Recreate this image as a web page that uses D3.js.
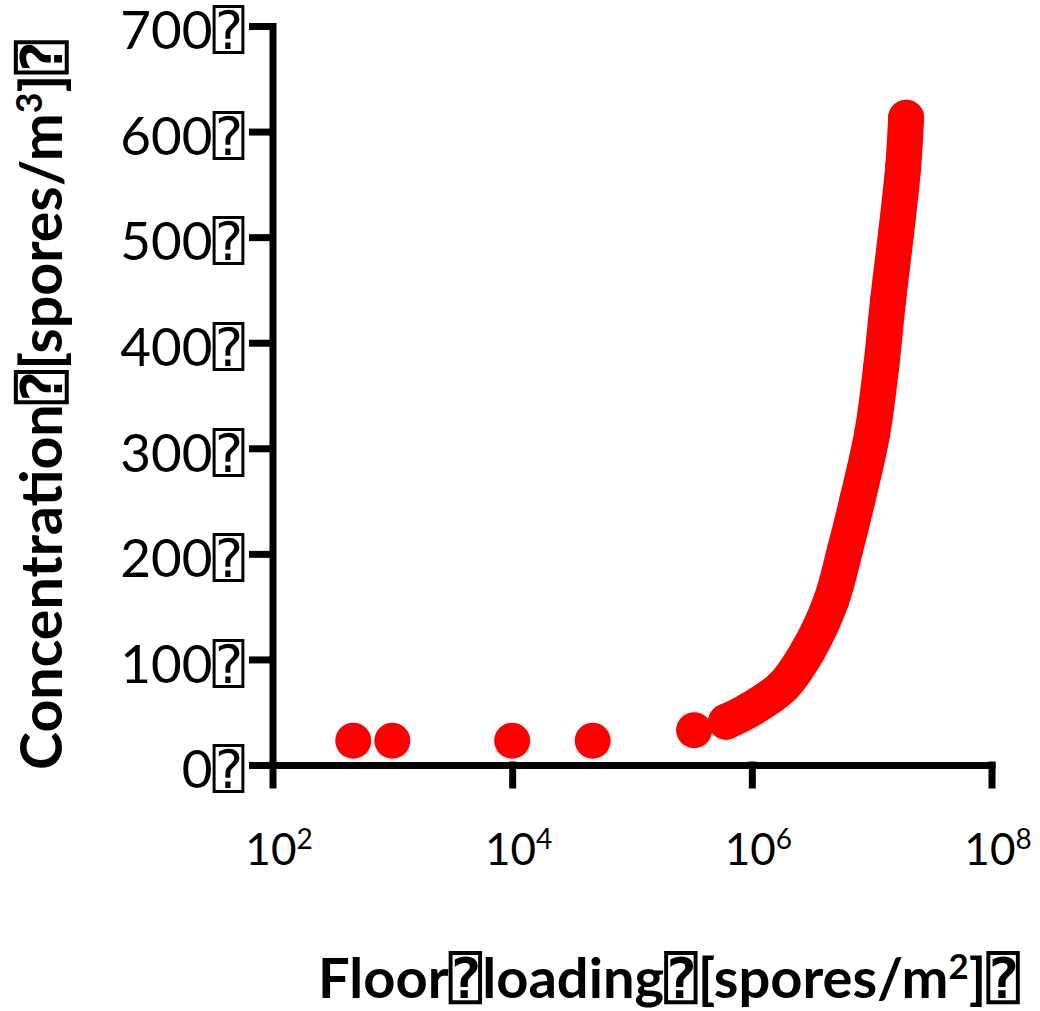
<!DOCTYPE html>
<html>
<head>
<meta charset="utf-8">
<script src="https://cdn.jsdelivr.net/npm/d3@7"></script>
<style>
  body { margin: 0; background: #fff; }
  text { font-family: Lato, "DejaVu Sans", "DejaVu Sans Mono", sans-serif; fill: #000; }
</style>
</head>
<body>
<div id="chart"></div>
<script>
var W = 1040,
	H = 1011;

// floor loading [spores/m2] and concentration [spores/m3]
var loading = [472, 1000, 10000, 47000, 330000, 610000, 950000, 1.8e6, 2.96e6, 4.6e6, 6.0e6, 7.6e6, 1.01e7, 1.2e7, 1.37e7, 1.6e7, 1.83e7, 1.94e7];
var conc    = [23, 23, 23, 23, 33, 41, 52, 74, 109, 156, 204, 251, 314, 377, 440, 504, 566, 613];
// the points from here on sit so close together they read as one band
var denseFrom = 5;

var yTicks = [0, 100, 200, 300, 400, 500, 600, 700];
var xTicks = [1e2, 1e4, 1e6, 1e8];
var tofu = "\u2370";

var x = d3.scaleLog().domain([1e2, 1e8]).range([272.5, 991.5]);
var y = d3.scaleLinear().domain([0, 700]).range([765, 26]);

var svg = d3.select("#chart").append("svg")
	.attr("width", W)
	.attr("height", H);

// y axis
var gy = svg.append("g")
	.attr("transform", "translate(" + x.range()[0] + ",0)")
	.call(d3.axisLeft(y).tickValues(yTicks).tickSize(20).tickSizeOuter(0).tickPadding(8)
		.tickFormat(function(d){ return d + tofu; }));
gy.selectAll("path, line").attr("stroke", "#000").attr("stroke-width", 7).attr("stroke-linecap", "square");
gy.selectAll("text").attr("font-size", "53px").attr("dy", "0.43em");

// x axis
var gx = svg.append("g")
	.attr("transform", "translate(0," + y(0) + ")")
	.call(d3.axisBottom(x).tickValues(xTicks).tickSize(20).tickSizeOuter(0));
gx.selectAll("path, line").attr("stroke", "#000").attr("stroke-width", 7).attr("stroke-linecap", "square");
gx.selectAll("text").each(function(d){
	var t = d3.select(this).text(null)
		.attr("y", 100).attr("dy", 0).attr("x", 6)
		.attr("font-size", "44px");
	t.append("tspan").text("10");
	t.append("tspan").attr("font-size", "28px").attr("dy", -16).text(Math.round(Math.log10(d)));
});
svg.selectAll(".domain").attr("fill", "none");

// dense band
var line = d3.line()
	.x(function(i){ return x(loading[i]); })
	.y(function(i){ return y(conc[i]); })
	.curve(d3.curveCatmullRom);
svg.append("path")
	.attr("d", line(d3.range(denseFrom, loading.length)))
	.attr("fill", "none")
	.attr("stroke", "#ff0000")
	.attr("stroke-width", 36)
	.attr("stroke-linecap", "round")
	.attr("stroke-linejoin", "round");

// the points
svg.selectAll("circle.pt")
	.data(d3.range(loading.length))
	.enter()
	.append("circle")
	.attr("class", "pt")
	.attr("cx", function(i){ return x(loading[i]); })
	.attr("cy", function(i){ return y(conc[i]); })
	.attr("r", 18)
	.attr("fill", "#ff0000");

// titles, sized to the width they take in the picture
function fit(sel, target) {
	var len = sel.node().getComputedTextLength();
	sel.attr("font-size", (50 * target / len) + "px");
}
function title(t, pre, sup, post) {
	t.append("tspan").text(pre);
	t.append("tspan").attr("font-size", "0.62em").attr("dy", "-0.55em").text(sup);
	t.append("tspan").attr("dy", "0.34em").text(post);
}

var xt = svg.append("text")
	.attr("x", 669)
	.attr("y", 998)
	.attr("text-anchor", "middle")
	.attr("font-weight", "bold")
	.attr("font-size", "50px");
title(xt, "Floor" + tofu + "loading" + tofu + "[spores/m", "2", "]" + tofu);
fit(xt, 702);

var yt = svg.append("text")
	.attr("transform", "translate(62,405) rotate(-90)")
	.attr("text-anchor", "middle")
	.attr("font-weight", "bold")
	.attr("font-size", "50px");
title(yt, "Concentration" + tofu + "[spores/m", "3", "]" + tofu);
fit(yt, 730);
</script>
</body>
</html>
